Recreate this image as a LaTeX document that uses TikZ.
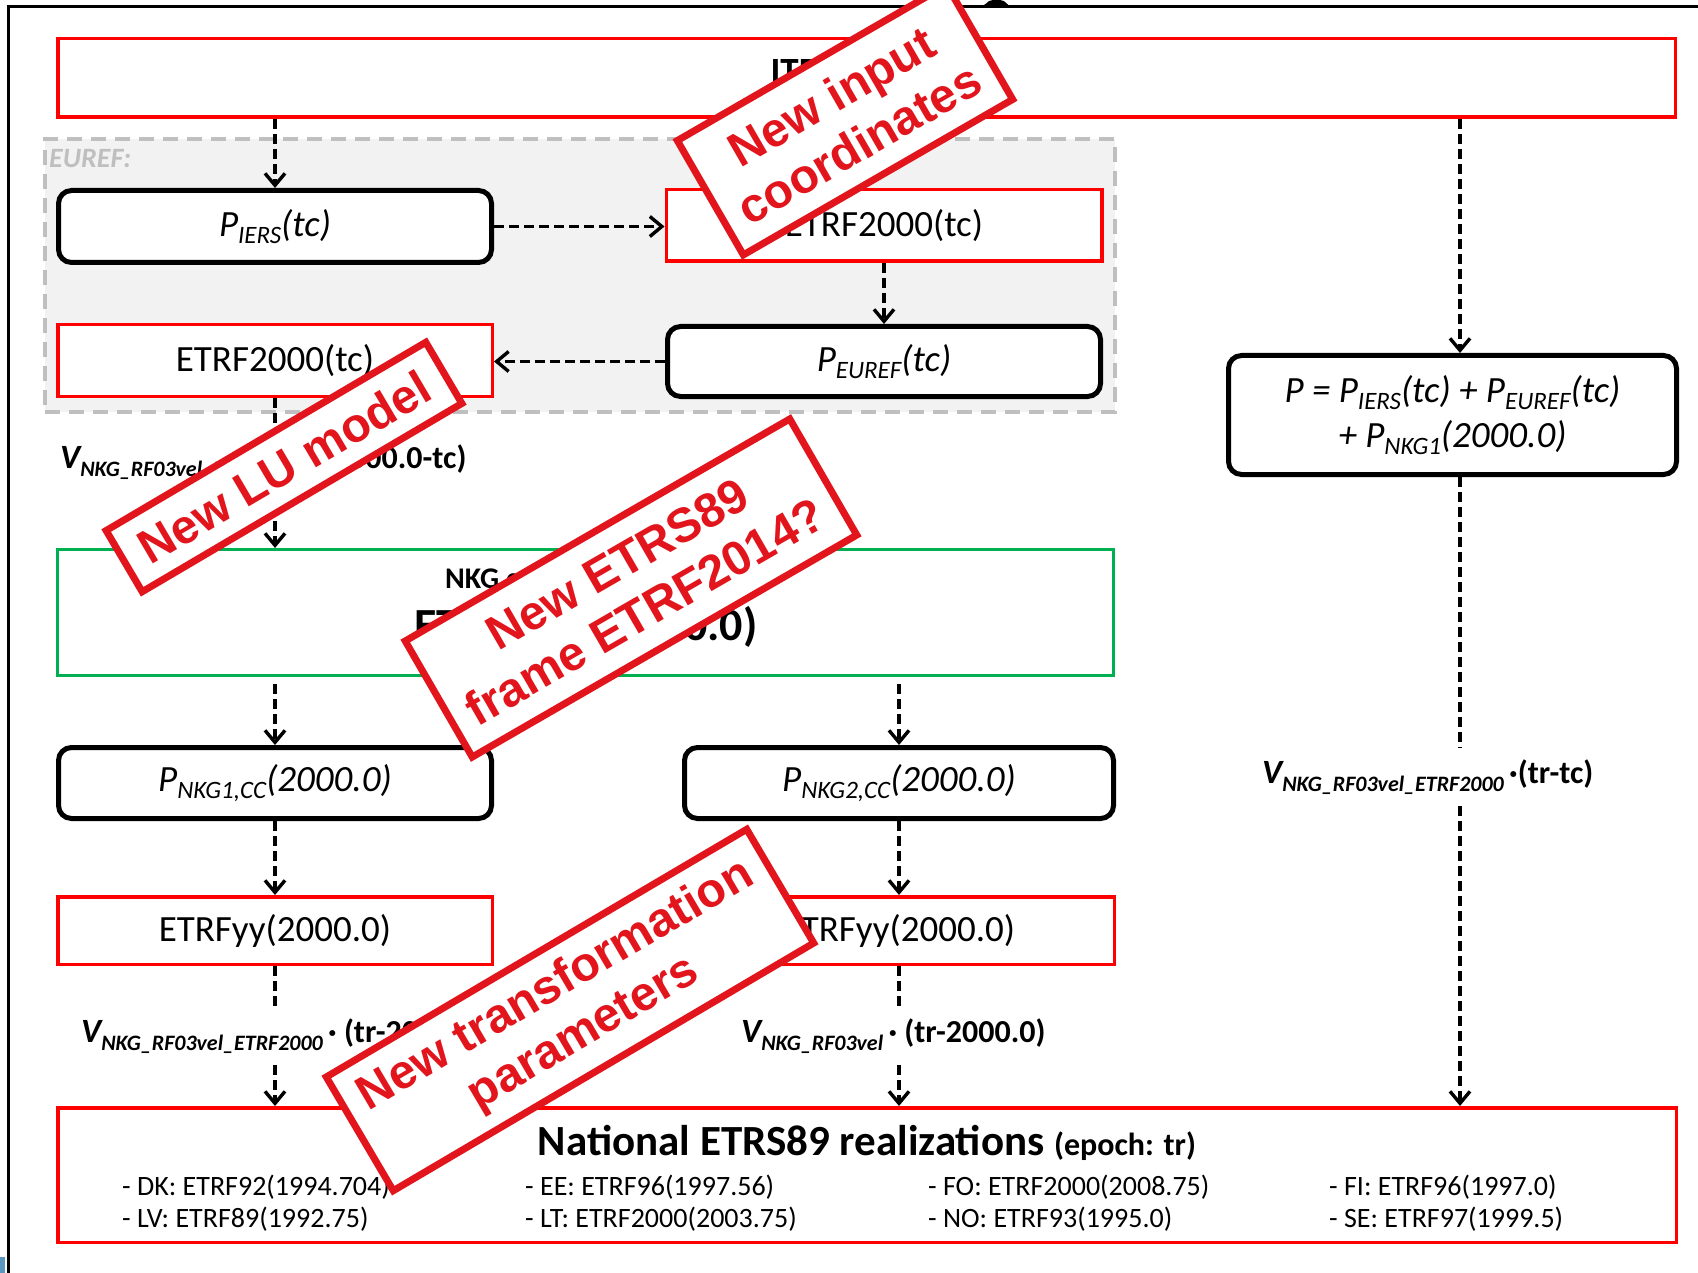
\documentclass[tikz,border=0pt]{standalone}
\usepackage{fontspec}
\setmainfont{Carlito}
\newfontfamily\stampfont{Liberation Sans}
\usetikzlibrary{arrows.meta}

\definecolor{boxred}{RGB}{255,0,0}
\definecolor{stampred}{RGB}{226,20,28}
\definecolor{nkggreen}{RGB}{0,176,80}
\definecolor{eurefgray}{RGB}{191,191,191}
\definecolor{eureffill}{RGB}{242,242,242}
\definecolor{cornerblue}{RGB}{90,150,190}

% font size in pt (one unit = one pixel of the layout grid)
\newcommand\fsz[1]{\fontsize{#1}{#1}\selectfont}
% lowered subscript: size, drop, text
\newcommand\lowsub[3]{\raisebox{-#2pt}{\fsz{#1}#3}}

\begin{document}
\begin{tikzpicture}[x=1pt,y=-1pt,
  redbox/.style={draw=boxred, line width=3.5pt, fill=white, inner sep=0pt},
  roundbox/.style={draw=black, line width=5pt, fill=white, rounded corners=13pt, inner sep=0pt},
  flowline/.style={line width=3.4pt, dash pattern=on 10pt off 5pt},
  flow/.style={flowline, -{Straight Barb[length=12pt,width=20pt]}},
  vlabel/.style={anchor=base west, inner xsep=0pt, inner ysep=12pt},
  item/.style={anchor=base west, inner sep=0pt, font=\fsz{28}},
  stamp/.style={draw=stampred, line width=7pt, fill=white, text=stampred,
    font=\stampfont\bfseries\fontsize{48}{55}\selectfont, align=center, inner sep=0pt}
]
\useasboundingbox (0,0) rectangle (1698,1273);

% outer frame and the small tab on it
\draw[line width=3pt] (8.5,1273) -- (8.5,6.5) -- (1698,6.5);
\fill (977,7) .. controls (987,7) and (986,0) .. (993,0) -- (1000,0)
      .. controls (1007,0) and (1006,7) .. (1014,7) -- cycle;
\fill[cornerblue] (0,1257) rectangle (5,1273);

% EUREF group background
\node[draw=eurefgray, fill=eureffill, line width=4pt, dash pattern=on 15pt off 9pt,
      minimum width=1070pt, minimum height=273pt, inner sep=0pt] (euref) at (580,275.5) {};
\node[anchor=base west, inner sep=0pt, text=eurefgray, font=\bfseries\itshape\fsz{28}]
      (eureflabel) at (49,168) {EUREF:};

% top input box
\node[redbox, minimum width=1617.5pt, minimum height=78.5pt] (itrf) at (866.5,78) {};
\node[anchor=base, inner sep=0pt, font=\bfseries\fsz{37}] (itrflabel) at (866.5,84) {ITRF2008(tc)};

% EUREF chain
\node[roundbox, minimum width=433pt, minimum height=72pt] (piers) at (275,226.5)
      {\itshape\fsz{37}P\lowsub{25}{7}{IERS}(tc)};
\node[redbox, minimum width=435.5pt, minimum height=71.5pt] (etrftr) at (884,225.5)
      {\fsz{37}ETRF2000(tc)};
\node[roundbox, minimum width=433pt, minimum height=70pt] (peuref) at (884,361.5)
      {\itshape\fsz{37}P\lowsub{25}{7}{EUREF}(tc)};
\node[redbox, minimum width=434.5pt, minimum height=71.5pt] (etrftl) at (275,360.5)
      {\fsz{37}ETRF2000(tc)};

% common NKG frame
\node[draw=nkggreen, line width=3pt, fill=white, minimum width=1056pt, minimum height=126pt,
      inner sep=0pt] (nkg) at (585.5,612.5) {};
\node[anchor=base west, inner sep=0pt, font=\bfseries\fsz{30}] (nkgline1) at (445,588) {NKG common frame};
\node[anchor=base, inner sep=0pt, font=\bfseries\fsz{46}] (nkgline2) at (586,640) {ETRF2000(2000.0)};

% NKG coordinates and ETRFyy
\node[roundbox, minimum width=433pt, minimum height=71pt] (pnkg1) at (275,783)
      {\itshape\fsz{37}P\lowsub{25}{7}{NKG1,CC}(2000.0)};
\node[roundbox, minimum width=429pt, minimum height=71pt] (pnkg2) at (899,783)
      {\itshape\fsz{37}P\lowsub{25}{7}{NKG2,CC}(2000.0)};
\node[redbox, minimum width=434.5pt, minimum height=67.5pt] (etrfyyl) at (275,930.5)
      {\fsz{37}ETRFyy(2000.0)};
\node[redbox, minimum width=430.5pt, minimum height=67.5pt] (etrfyyr) at (899,930.5)
      {\fsz{37}ETRFyy(2000.0)};

% direct formula
\node[roundbox, minimum width=448pt, minimum height=119pt, align=center,
      font=\itshape\fontsize{37}{45}\selectfont] (formula) at (1452.5,415)
      {P = P\lowsub{25}{7}{IERS}(tc) + P\lowsub{25}{7}{EUREF}(tc)\\
       + P\lowsub{25}{7}{NKG1}(2000.0)};

% national realizations
\node[redbox, minimum width=1618.5pt, minimum height=134.5pt] (natl) at (867,1175) {};
\node[anchor=base, inner sep=0pt, font=\bfseries\fsz{43}] (natltitle) at (867,1155)
      {National ETRS89 realizations {\fsz{32}(epoch: tr)}};
\node[item] (dk) at (122,1195) {- DK: ETRF92(1994.704)};
\node[item] (lv) at (122,1227) {- LV: ETRF89(1992.75)};
\node[item] (ee) at (525,1195) {- EE: ETRF96(1997.56)};
\node[item] (lt) at (525,1227) {- LT: ETRF2000(2003.75)};
\node[item] (fo) at (928,1195) {- FO: ETRF2000(2008.75)};
\node[item] (no) at (928,1227) {- NO: ETRF93(1995.0)};
\node[item] (fi) at (1329,1195) {- FI: ETRF96(1997.0)};
\node[item] (se) at (1329,1227) {- SE: ETRF97(1999.5)};

% velocity labels
\node[vlabel] (velA) at (60,468)
      {\bfseries\itshape\fsz{34}V\lowsub{22}{8}{NKG\_RF03vel\_ETRF2000}\upshape\fsz{32}\,· (2000.0-tc)};
\node[vlabel] (velB) at (81,1042)
      {\bfseries\itshape\fsz{34}V\lowsub{22}{8}{NKG\_RF03vel\_ETRF2000}\upshape\fsz{32}\,· (tr-2000.0)};
\node[vlabel] (velC) at (741,1042)
      {\bfseries\itshape\fsz{34}V\lowsub{22}{8}{NKG\_RF03vel}\upshape\fsz{32}\,· (tr-2000.0)};
\node[vlabel] (velR) at (1262,783)
      {\bfseries\itshape\fsz{34}V\lowsub{22}{8}{NKG\_RF03vel\_ETRF2000}\upshape\fsz{32}\,·(tr-tc)};

% connectors
\coordinate (rcol) at (1460,0);
\draw[flow] (piers.north |- itrf.south) -- (piers.north);
\draw[flow] (piers.east) -- (piers.east -| etrftr.west);
\draw[flow] (etrftr.south) -- (etrftr.south |- peuref.north);
\draw[flow] (peuref.west) -- (peuref.west -| etrftl.east);
\draw[flowline] (etrftl.south) -- (etrftl.south |- velA.north);
\draw[flow] (etrftl.south |- velA.south) -- (etrftl.south |- nkg.north);
\draw[flow, shorten <=7pt] (pnkg1.north |- nkg.south) -- (pnkg1.north);
\draw[flow, shorten <=7pt] (pnkg2.north |- nkg.south) -- (pnkg2.north);
\draw[flow] (pnkg1.south) -- (etrfyyl.north);
\draw[flow] (pnkg2.south) -- (etrfyyr.north);
\draw[flowline] (etrfyyl.south) -- (etrfyyl.south |- velB.north);
\draw[flow] (etrfyyl.south |- velB.south) -- (etrfyyl.south |- natl.north);
\draw[flowline] (etrfyyr.south) -- (etrfyyr.south |- velC.north);
\draw[flow] (etrfyyr.south |- velC.south) -- (etrfyyr.south |- natl.north);
\draw[flow] (rcol |- itrf.south) -- (rcol |- formula.north);
\draw[flowline] (rcol |- formula.south) -- (rcol |- velR.north);
\draw[flow] (rcol |- velR.south) -- (rcol |- natl.north);

% stamps
\node[stamp, rotate=30, minimum width=311pt, minimum height=132pt] (stampinput) at (845,120)
      {New input\\coordinates};
\node[stamp, rotate=30.5, minimum width=371pt, minimum height=71pt] (stamplu) at (284,467)
      {New LU model};
\node[stamp, rotate=30, minimum width=444pt, minimum height=134pt] (stampframe) at (631,588)
      {New ETRS89\\frame ETRF2014?};
\node[stamp, rotate=30.5, minimum width=488pt, minimum height=132pt] (stamptrans) at (570,1010)
      {New transformation\\parameters};
\end{tikzpicture}
\end{document}
